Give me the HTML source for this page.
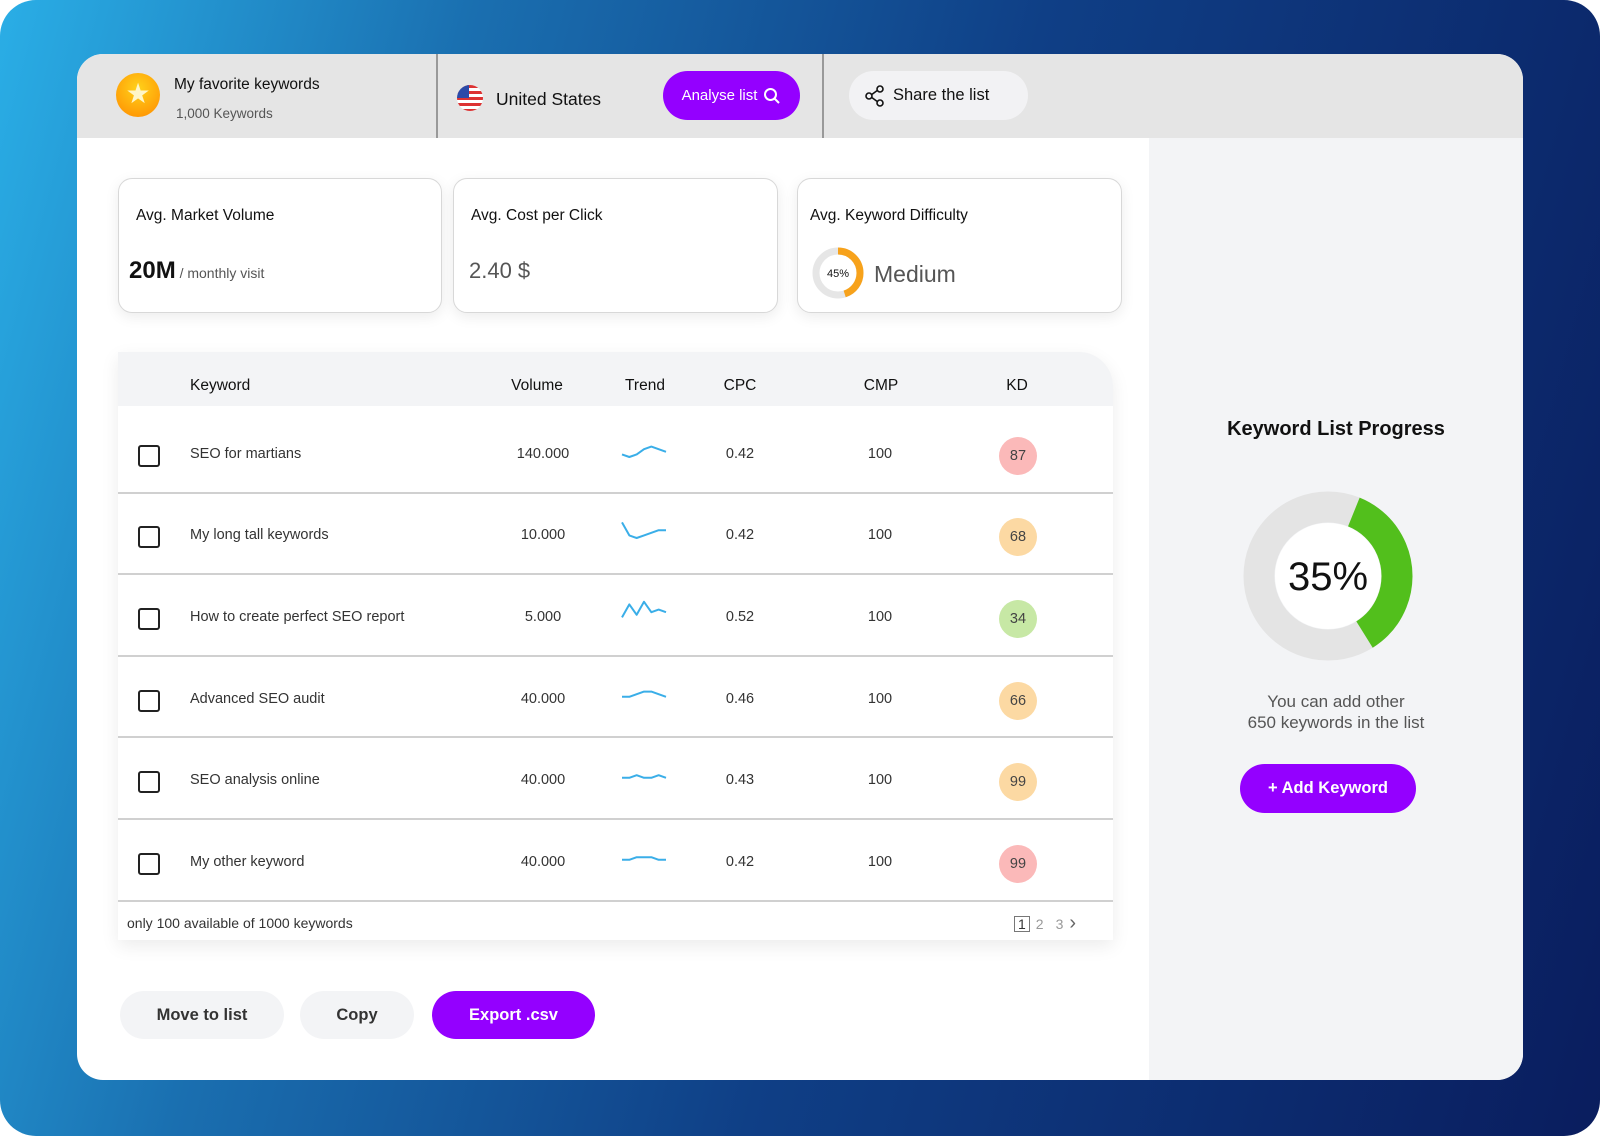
<!DOCTYPE html>
<html><head><meta charset="utf-8">
<style>
*{box-sizing:border-box;margin:0;padding:0}
body{width:1600px;height:1136px;overflow:hidden;font-family:"Liberation Sans",sans-serif;background:#fff;position:relative}
.frame{position:absolute;left:0;top:0;width:1600px;height:1136px;border-radius:36px;background:linear-gradient(105deg,#2aaee6 0%,#1a6fb0 25%,#0f3f86 55%,#0a1d5e 100%)}
.abs{position:absolute}
.card{position:absolute;left:77px;top:54px;width:1446px;height:1026px;border-radius:26px;background:#fff;overflow:hidden}
.topbar{position:absolute;left:0;top:0;width:1446px;height:84px;background:#e5e5e5}
.rpanel{position:absolute;left:1072px;top:84px;width:374px;height:942px;background:#f3f4f6}
.stat{position:absolute;top:124px;height:135px;background:#fff;border:1px solid #d8d8d8;border-radius:14px;box-shadow:0 4px 14px rgba(0,0,0,.08)}
.stat .t{position:absolute;left:17px;top:28px;font-size:15.5px;color:#111}
.table{position:absolute;left:41px;top:298px;width:995px;height:588px;background:#fff;border-radius:0 34px 0 0;box-shadow:0 6px 18px rgba(0,0,0,.08);overflow:hidden}
.th{position:absolute;top:0;left:0;width:995px;height:54px;background:#f3f4f6}
.hc{position:absolute;top:25px;font-size:15.5px;color:#111;transform:translateX(-50%)}
.btn{position:absolute;top:937px;height:48px;border-radius:24px;font-size:16.5px;font-weight:bold;display:flex;align-items:center;justify-content:center}
</style></head><body>
<div class="frame"></div>
<div class="card">
  <div class="topbar">
    <div class="abs" style="left:39px;top:19px;width:44px;height:44px;border-radius:50%;background:radial-gradient(circle at 50% 35%,#ffd21a,#ff8a00);">
      <div style="position:absolute;left:0;top:6px;width:44px;text-align:center;color:#fff6c8;font-size:28px;line-height:30px">★</div>
    </div>
    <div class="abs" style="left:97px;top:22px;font-size:15.5px;color:#111">My favorite keywords</div>
    <div class="abs" style="left:99px;top:52px;font-size:13.5px;color:#555">1,000 Keywords</div>
    <div class="abs" style="left:359px;top:0;width:2px;height:84px;background:#999"></div>
    <div class="abs" style="left:380px;top:31px;width:26px;height:26px;border-radius:50%;overflow:hidden;background:repeating-linear-gradient(180deg,#d33 0 3px,#fff 3px 6px)"><div style="width:12px;height:13px;background:#2b4aa8"></div></div>
    <div class="abs" style="left:419px;top:35px;font-size:17.5px;color:#111">United States</div>
    <div class="abs" style="left:586px;top:17px;width:137px;height:49px;border-radius:25px;background:#9400ff;color:#fff;font-size:15px;display:flex;align-items:center;justify-content:center;gap:6px">Analyse list <svg width="18" height="18" viewBox="0 0 18 18"><circle cx="7.5" cy="7.5" r="5.5" fill="none" stroke="#fff" stroke-width="2"/><line x1="11.5" y1="11.5" x2="16" y2="16" stroke="#fff" stroke-width="2"/></svg></div>
    <div class="abs" style="left:745px;top:0;width:2px;height:84px;background:#999"></div>
    <div class="abs" style="left:772px;top:17px;width:179px;height:49px;border-radius:25px;background:#f2f2f4;color:#111;font-size:16.5px;display:flex;align-items:center;padding-left:16px;gap:8px">
      <svg width="20" height="22" viewBox="0 0 20 22"><circle cx="15" cy="4" r="3" fill="none" stroke="#111" stroke-width="1.6"/><circle cx="4" cy="11" r="3" fill="none" stroke="#111" stroke-width="1.6"/><circle cx="15" cy="18" r="3" fill="none" stroke="#111" stroke-width="1.6"/><line x1="6.6" y1="9.6" x2="12.4" y2="5.4" stroke="#111" stroke-width="1.6"/><line x1="6.6" y1="12.4" x2="12.4" y2="16.6" stroke="#111" stroke-width="1.6"/></svg>Share the list</div>
  </div>
  <div class="rpanel"></div>

  <div class="stat" style="left:41px;width:324px">
    <div class="t">Avg. Market Volume</div>
    <div class="abs" style="left:10px;top:78px;font-size:24px;color:#111;font-weight:bold">20M<span style="font-size:14px;font-weight:normal;color:#555"> / monthly visit</span></div>
  </div>
  <div class="stat" style="left:376px;width:325px">
    <div class="t">Avg. Cost per Click</div>
    <div class="abs" style="left:15px;top:79px;font-size:22px;color:#555">2.40 $</div>
  </div>
  <div class="stat" style="left:720px;width:325px">
    <div class="t" style="left:12px">Avg. Keyword Difficulty</div>
    <svg class="abs" style="left:13px;top:67px" width="54" height="54" viewBox="0 0 54 54">
      <circle cx="27" cy="27" r="22" fill="none" stroke="#e6e6e6" stroke-width="7"/>
      <circle cx="27" cy="27" r="22" fill="none" stroke="#f7a21b" stroke-width="7" stroke-dasharray="62.2 200" transform="rotate(-90 27 27)"/>
      <text x="27" y="31" text-anchor="middle" font-size="11" font-family="Liberation Sans" fill="#111">45%</text>
    </svg>
    <div class="abs" style="left:76px;top:82px;font-size:23px;color:#555">Medium</div>
  </div>

  <div class="table">
    <div class="th">
      <div class="hc" style="left:72px;transform:none">Keyword</div>
      <div class="hc" style="left:419px">Volume</div>
      <div class="hc" style="left:527px">Trend</div>
      <div class="hc" style="left:622px">CPC</div>
      <div class="hc" style="left:763px">CMP</div>
      <div class="hc" style="left:899px">KD</div>
    </div>
    <div id="rows"></div>
    <div class="abs" style="left:9px;top:563px;font-size:14px;color:#333">only 100 available of 1000 keywords</div>
    <div class="abs" style="left:896px;top:560px;font-size:14px;color:#999;display:flex;gap:6px;align-items:center"><span style="border:1px solid #777;color:#333;padding:0 3px;line-height:14px">1</span><span>2</span><span style="margin-left:6px">3</span><span style="color:#666;font-size:20px">›</span></div>
  </div>

  <div class="btn" style="left:43px;width:164px;background:#f3f4f6;color:#333">Move to list</div>
  <div class="btn" style="left:223px;width:114px;background:#f3f4f6;color:#333">Copy</div>
  <div class="btn" style="left:355px;width:163px;background:#9400ff;color:#fff">Export .csv</div>

  <div class="abs" style="left:1072px;top:364px;width:374px;text-align:center;font-size:20px;font-weight:bold;color:#111">Keyword List Progress</div>
  <svg class="abs" style="left:1165px;top:436px" width="172" height="172" viewBox="0 0 172 172">
    <circle cx="86" cy="86" r="69" fill="none" stroke="#e4e4e4" stroke-width="31"/>
    <circle id="pg" cx="86" cy="86" r="69" fill="none" stroke="#52bf1c" stroke-width="31" transform="rotate(-68 86 86)"/>
    <circle cx="86" cy="86" r="53" fill="#fff"/>
    <text x="86" y="100" text-anchor="middle" font-size="40" font-family="Liberation Sans" fill="#111">35%</text>
  </svg>
  <div class="abs" style="left:1072px;top:637px;width:374px;text-align:center;font-size:17px;color:#555;line-height:21px">You can add other<br>650 keywords in the list</div>
  <div class="abs" style="left:1163px;top:710px;width:176px;height:49px;border-radius:25px;background:#9400ff;color:#fff;font-size:16.5px;font-weight:bold;display:flex;align-items:center;justify-content:center">+ Add Keyword</div>
</div>
<script>
const keywords=["SEO for martians","My long tall keywords","How to create perfect SEO report","Advanced SEO audit","SEO analysis online","My other keyword"];
const volumes=["140.000","10.000","5.000","40.000","40.000","40.000"];
const cpcs=["0.42","0.42","0.52","0.46","0.43","0.42"];
const cmps=["100","100","100","100","100","100"];
const kds=[87,68,34,66,99,99];
const kdColors=["#fbb9b9","#fcd9a3","#c7e8a5","#fcd9a3","#fcd9a3","#fbb9b9"];
const trends=[[1,0,1,3,4,3,2],[6,1,0,1,2,3,3],[1,6,2,7,3,4,3],[2,2,3,4,4,3,2],[2,2,3,2,2,3,2],[2,2,3,3,3,2,2]];
const progress=0.35;
const rowsEl=document.getElementById('rows');
const rowTop=60,rowH=81.6;
keywords.forEach((k,i)=>{
  const y=rowTop+i*rowH;
  const r=document.createElement('div');
  
  
  r.style.cssText=`position:absolute;left:0;top:${y}px;width:995px;height:${rowH}px;border-bottom:2px solid #d0d0d0`;
  const cy=rowH/2+3;
  const t=trends[i];
  const pts=t.map((v,j)=>`${2+j*(44/(t.length-1))},${20-v*2.6}`).join(' ');
  r.innerHTML=`<div style="position:absolute;left:20px;top:${cy-11}px;width:22px;height:22px;border:2px solid #222;border-radius:3px"></div>
  <div style="position:absolute;left:72px;top:${cy-10}px;font-size:14.5px;color:#333">${k}</div>
  <div style="position:absolute;left:425px;top:${cy-10}px;font-size:14.5px;color:#333;transform:translateX(-50%)">${volumes[i]}</div>
  <svg style="position:absolute;left:502px;top:${cy-19}px" width="50" height="24"><polyline points="${pts}" fill="none" stroke="#3aaee8" stroke-width="2" stroke-linejoin="round"/></svg>
  <div style="position:absolute;left:622px;top:${cy-10}px;font-size:14.5px;color:#333;transform:translateX(-50%)">${cpcs[i]}</div>
  <div style="position:absolute;left:762px;top:${cy-10}px;font-size:14.5px;color:#333;transform:translateX(-50%)">${cmps[i]}</div>
  <div style="position:absolute;left:881px;top:${cy-19}px;width:38px;height:38px;border-radius:50%;background:${kdColors[i]};font-size:14.5px;color:#444;display:flex;align-items:center;justify-content:center">${kds[i]}</div>`;
  rowsEl.appendChild(r);
});
const pg=document.getElementById('pg');const C=2*Math.PI*69;
pg.setAttribute('stroke-dasharray',`${C*progress} ${C}`);
</script>
</body></html>
